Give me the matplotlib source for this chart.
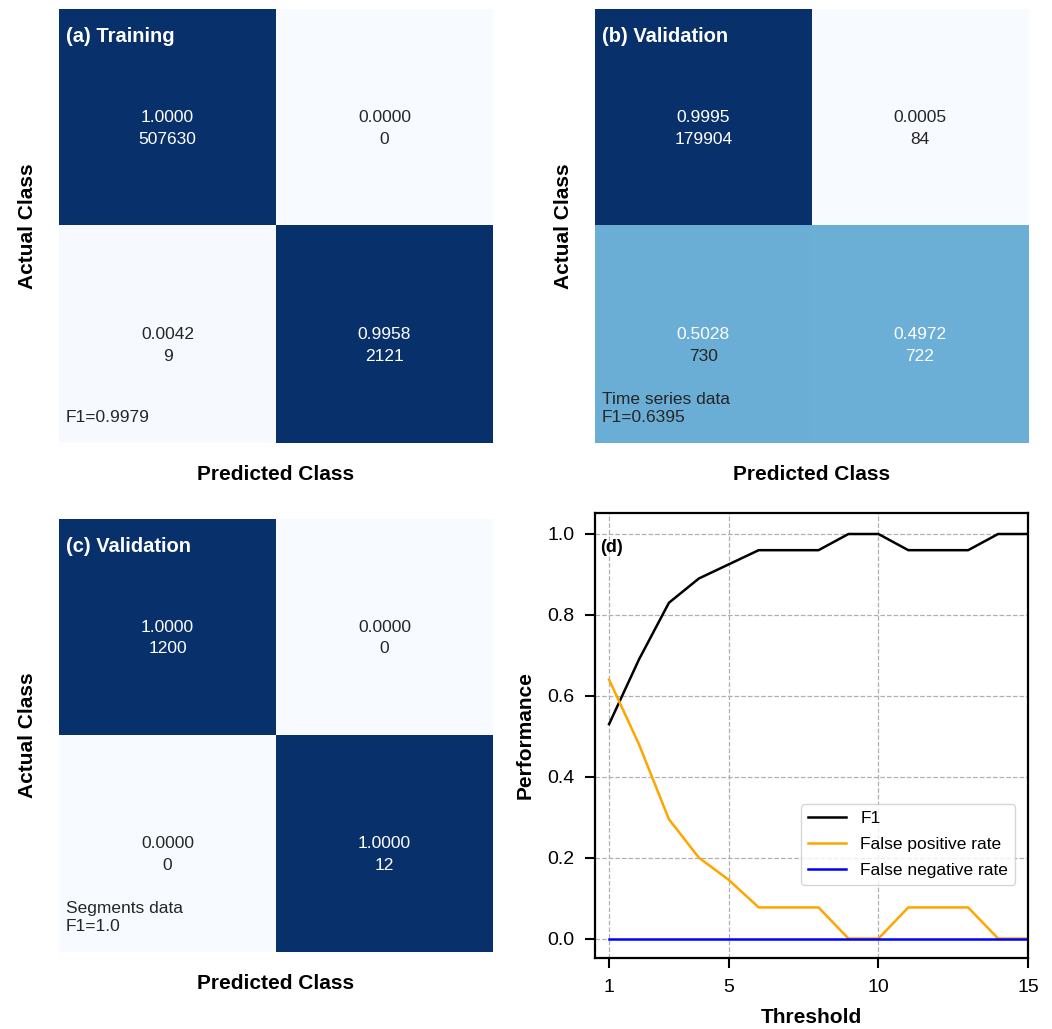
import numpy as np
import matplotlib
matplotlib.use("Agg")
import matplotlib.pyplot as plt

plt.rcParams['font.family'] = ['Liberation Sans', 'DejaVu Sans']

# confusion matrices: normalized rates and raw counts
train_rate = [[1.0000, 0.0000], [0.0042, 0.9958]]
train_count = [[507630, 0], [9, 2121]]
ts_rate = [[0.9995, 0.0005], [0.5028, 0.4972]]
ts_count = [[179904, 84], [730, 722]]
seg_rate = [[1.0000, 0.0000], [0.0000, 1.0000]]
seg_count = [[1200, 0], [0, 12]]

panel_titles = ["(a) Training", "(b) Validation", "(c) Validation"]
panel_notes = ["F1=0.9979", "Time series data\nF1=0.6395", "Segments data\nF1=1.0"]

# threshold sweep for panel (d)
thresholds = [1, 2, 3, 4, 5, 6, 7, 8, 9, 10, 11, 12, 13, 14, 15]
f1 = [0.53, 0.69, 0.83, 0.89, 0.925, 0.96, 0.96, 0.96, 1.0, 1.0, 0.96, 0.96, 0.96, 1.0, 1.0]
fpr = [0.64, 0.48, 0.295, 0.20, 0.145, 0.077, 0.077, 0.077, 0.0, 0.0, 0.077, 0.077, 0.077, 0.0, 0.0]
fnr = [0.0] * 15

# text colours per cell: (rate line, count line)
text_cols = [
    [[("white", "white"), ("#262626", "#262626")], [("#262626", "#262626"), ("white", "white")]],
    [[("white", "white"), ("#262626", "#262626")], [("white", "#262626"), ("white", "white")]],
    [[("white", "white"), ("#262626", "#262626")], [("#262626", "#262626"), ("white", "white")]],
]


def draw_cm(ax, rate, count, title, note, cols):
    ax.imshow(np.array(rate), cmap="Blues", vmin=0, vmax=1, extent=(0, 2, 2, 0),
              aspect="auto", interpolation="nearest")
    for i in range(2):
        for j in range(2):
            ax.text(j + 0.5, i + 0.5, "{0:.4f}".format(rate[i][j]), ha="center", va="center",
                    fontsize=12.5, color=cols[i][j][0])
            ax.text(j + 0.5, i + 0.6, str(count[i][j]), ha="center", va="center",
                    fontsize=12.5, color=cols[i][j][1])
    ax.text(0.03, 0.125, title, ha="left", va="center", fontsize=14.5,
            fontweight="bold", color="white")
    ax.text(0.03, 1.915, note, ha="left", va="bottom", fontsize=12.5,
            color="#262626", linespacing=1.25)
    ax.set_xlim(0, 2)
    ax.set_ylim(2, 0)
    ax.set_xticks([])
    ax.set_yticks([])
    for s in ax.spines.values():
        s.set_visible(False)
    ax.set_xlabel("Predicted Class", fontsize=15, fontweight="bold", labelpad=16)
    ax.set_ylabel("Actual Class", fontsize=15, fontweight="bold", labelpad=16)


fig = plt.figure(figsize=(10.52, 10.29), dpi=100)
ax_a = fig.add_axes([0.0561, 0.5695, 0.4125, 0.4218])
ax_b = fig.add_axes([0.5656, 0.5695, 0.4116, 0.4218])
ax_c = fig.add_axes([0.0561, 0.0748, 0.4125, 0.4208])
ax_d = fig.add_axes([0.5656, 0.0690, 0.4116, 0.4325])

draw_cm(ax_a, train_rate, train_count, panel_titles[0], panel_notes[0], text_cols[0])
draw_cm(ax_b, ts_rate, ts_count, panel_titles[1], panel_notes[1], text_cols[1])
draw_cm(ax_c, seg_rate, seg_count, panel_titles[2], panel_notes[2], text_cols[2])

ax = ax_d
ax.plot(thresholds, f1, color="black", lw=1.8, label="F1")
ax.plot(thresholds, fpr, color="orange", lw=1.8, label="False positive rate")
ax.plot(thresholds, fnr, color="blue", lw=1.8, label="False negative rate")
ax.set_xlim(0.53, 15)
ax.set_ylim(-0.048, 1.052)
ax.set_xticks([1, 5, 10, 15])
ax.set_yticks([0.0, 0.2, 0.4, 0.6, 0.8, 1.0])
ax.grid(True, linestyle="--", color="#b0b0b0", lw=0.9)
ax.tick_params(labelsize=14, length=7, width=1.5, pad=8)
for s in ax.spines.values():
    s.set_linewidth(1.6)
ax.set_xlabel("Threshold", fontsize=15, fontweight="bold", labelpad=9)
ax.set_ylabel("Performance", fontsize=15, fontweight="bold", labelpad=9)
ax.text(0.012, 0.922, "(d)", transform=ax.transAxes, ha="left", va="center",
        fontsize=13, fontweight="bold")
ax.legend(loc="lower right", bbox_to_anchor=(0.97, 0.165), borderaxespad=0,
          fontsize=12.5, framealpha=0.8, labelspacing=0.6, handlelength=2.2)

fig.savefig("out.png", dpi=100)
